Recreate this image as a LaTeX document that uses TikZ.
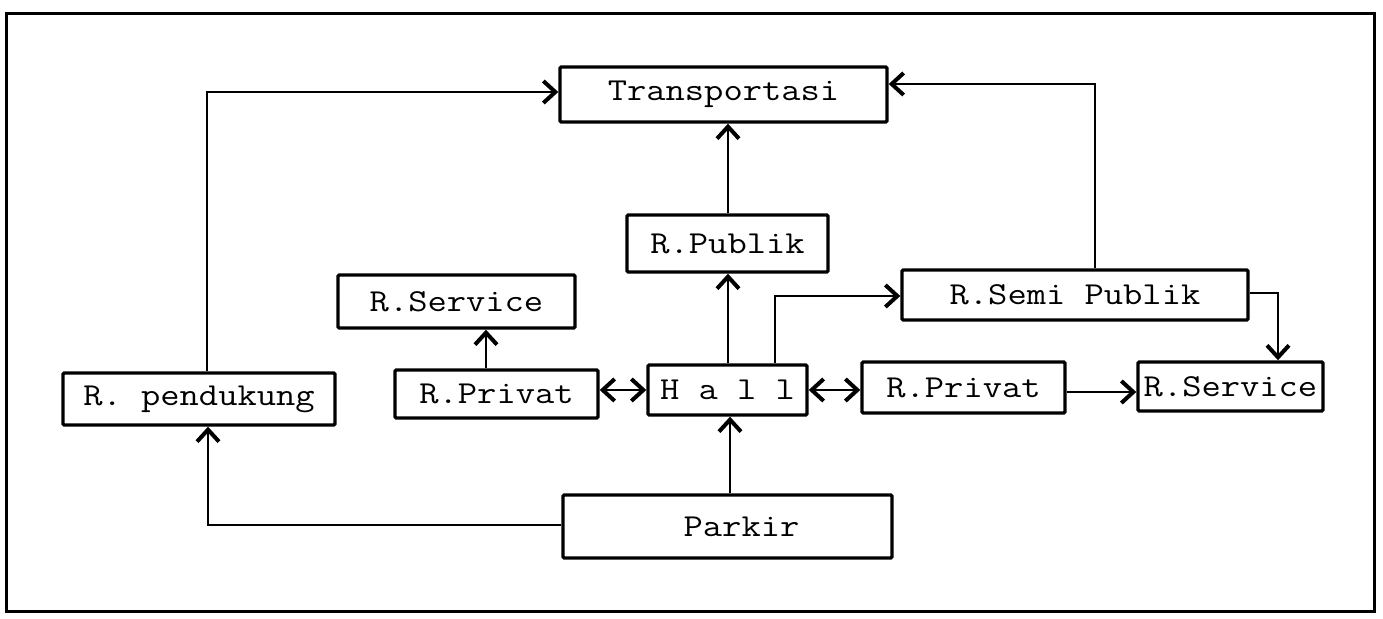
\documentclass[tikz,border=0pt]{standalone}
\usetikzlibrary{arrows.meta}
\newcommand{\tw}[1]{\scalebox{1.17}[1]{#1}}
\begin{document}
\begin{tikzpicture}[x=0.5pt,y=-0.5pt,
  box/.style={draw,line width=1.7pt,inner sep=0pt,rounded corners=0.6pt,
    font=\ttfamily\fontsize{16}{18}\selectfont},
  conn/.style={line width=1.1pt},
  tip/.style={-{Straight Barb[length=6pt,width=11pt,line width=2pt]}},
  dtip/.style={{Straight Barb[length=6pt,width=11pt,line width=2pt]}-{Straight Barb[length=6pt,width=11pt,line width=2pt]}}]
\useasboundingbox (0,0) rectangle (1383,619);
\draw[line width=1.5pt] (6,14) rectangle (1374,612);

\node[box,minimum width=163.5pt,minimum height=27.5pt] (trans) at (723.5,94.5) {\tw{Transportasi}};
\node[box,minimum width=100.5pt,minimum height=28.5pt] (publik) at (727.5,243.5) {\tw{R.Publik}};
\node[box,minimum width=173pt,minimum height=25pt] (semi) at (1075,295) {\tw{R.Semi Publik}};
\node[box,minimum width=118.5pt,minimum height=26.5pt] (servL) at (456.5,301.5) {\tw{R.Service}};
\node[box,minimum width=101.5pt,minimum height=24pt] (privL) at (496.5,394) {\tw{R.Privat}};
\node[box,minimum width=79.5pt,minimum height=25pt] (hall) at (727.5,390) {\tw{H a l l}};
\node[box,minimum width=101.5pt,minimum height=25.5pt] (privR) at (963.5,387.5) {\tw{R.Privat}};
\node[box,minimum width=92.5pt,minimum height=24.5pt] (servR) at (1230.5,386.5) {\tw{R.Service}};
\node[box,minimum width=136pt,minimum height=26pt] (pend) at (199,399) {\tw{R.\ pendukung}};
\node[box,minimum width=164.5pt,minimum height=31.5pt] (parkir) at (727.5,526.5) {\hspace*{14pt}\tw{Parkir}};

% connectors
\draw[conn,tip] (pend.north -| 207,0) -- (207,92) -- (trans.west |- 0,92);
\draw[conn,tip] (semi.north -| 1095,0) -- (1095,84) -- (trans.east |- 0,84);
\draw[conn,tip] (publik.north -| 728,0) -- (trans.south -| 728,0);
\draw[conn,tip] (hall.north -| 728,0) -- (publik.south -| 728,0);
\draw[conn,tip] (privL.north -| 486,0) -- (servL.south -| 486,0);
\draw[conn,dtip] (privL.east |- 0,390) -- (hall.west |- 0,390);
\draw[conn,dtip] (hall.east |- 0,390) -- (privR.west |- 0,390);
\draw[conn,tip] (hall.north -| 775,0) -- (775,296) -- (semi.west |- 0,296);
\draw[conn,tip] (semi.east |- 0,293) -- (1278,293) -- (servR.north -| 1278,0);
\draw[conn,tip] (privR.east |- 0,392) -- (servR.west |- 0,392);
\draw[conn,tip] (parkir.north -| 730,0) -- (hall.south -| 730,0);
\draw[conn,tip] (parkir.west |- 0,525) -- (208,525) -- (pend.south -| 208,0);
\end{tikzpicture}
\end{document}
